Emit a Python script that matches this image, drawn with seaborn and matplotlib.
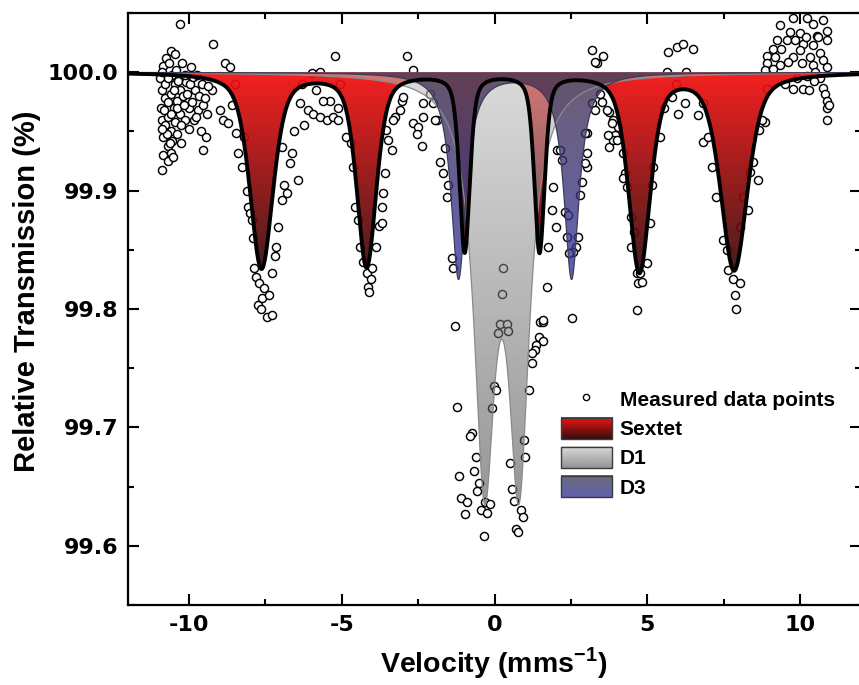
import numpy as np
import pandas as pd
import matplotlib
matplotlib.use("Agg")
import matplotlib.pyplot as plt
import seaborn as sns
from matplotlib.colors import LinearSegmentedColormap
from matplotlib.legend_handler import HandlerBase
from matplotlib.image import BboxImage
from matplotlib.transforms import Bbox, TransformedBbox
from matplotlib.patches import Rectangle, Patch
from matplotlib.lines import Line2D
from matplotlib.ticker import MultipleLocator, FormatStrFormatter

# ---------------- data ----------------
data_x = [
    -10.85, -10.75, -10.65, -10.55, -10.45, -10.35, -10.90, -10.80, -10.70, -10.60,
    -10.50, -10.40, -10.30, -10.20, -10.10, -10.00, -9.90, -9.80, -10.90, -10.80,
    -10.70, -10.60, -10.45, -10.30, -10.15, -10.00, -9.85, -9.70, -9.55, -9.40,
    -10.85, -10.70, -10.55, -10.40, -10.25, -9.60, -9.45, -10.85, -10.70, -10.60,
    -10.90, -10.31, -9.23, -9.25, -10.60, -10.45, -10.95, -10.88, -10.78, -10.68,
    -10.58, -10.48, -10.38, -10.28, -10.18, -10.08, -9.98, -9.88, -9.78, -9.68,
    -9.58, -9.48, -9.38, -10.92, -10.82, -10.72, -10.62, -10.52, -10.42, -10.22,
    -10.12, -9.95, -9.75, -10.88,
    # sextet line 1
    -8.84, -8.67, -8.50, -9.00, -8.90, -8.74, -8.45, -9.56, -8.41, -8.28,
    -8.12, -8.08, -8.02, -7.95, -7.86, -7.80, -7.70, -7.76, -7.60, -7.46,
    -7.30, -7.30, -7.14, -7.10, -6.97, -6.81, -6.71, -6.64, -6.45, -6.97,
    -6.38, -8.20, -8.60, -7.90, -7.55, -7.20, -6.90, -6.55, -7.65, -7.40,
    # between lines 1 and 2
    -6.12, -5.96, -5.73, -5.50, -5.30, -5.14, -5.40, -5.63, -5.99, -5.73,
    -5.24, -4.85, -5.14, -6.25, -5.85, -5.05, -6.30,
    # line 2
    -4.65, -4.58, -4.48, -4.42, -4.19, -4.16, -4.10, -4.00, -3.87, -3.80,
    -3.70, -3.66, -3.60, -4.70, -4.30, -4.05,
    # between lines 2 and centre
    -2.88, -2.68, -2.13, -3.04, -3.10, -3.27, -3.34, -3.54, -3.50, -3.37,
    -3.70, -2.68, -2.52, -2.55, -2.39, -2.36, -2.03, -1.87, -1.96, -1.64,
    -1.80, -1.70, -1.54, -1.57, -1.41, -1.37, -3.00, -2.36, -1.31, -1.24,
    # D1 region
    0.29, 0.23, 0.16, 0.39, 0.10, 0.43, -0.03, 0.03, 1.11, -0.10,
    -0.75, -0.82, 0.95, 1.01, -0.62, 0.52, -0.69, -1.18, -0.52, -0.59,
    0.56, -1.11, -0.92, 0.62, -0.33, -0.16, -0.43, -0.98, -0.26, 0.85,
    0.92, 0.69, 0.75, -0.36,
    1.70, 1.47, 1.60, 1.44, 1.57, 1.37, 1.31, 1.21, 1.24,
    # right of D1 up to line 5
    1.74, 1.90, 1.87, 2.00, 2.29, 2.36, 2.72, 2.68, 2.55, 2.45,
    2.39, 2.03, 2.19, 2.13, 2.52, 1.57, 2.78, 2.85, 3.01, 2.95,
    3.01, 3.04, 2.95, 3.18, 3.54, 3.34, 3.27, 3.44, 3.18, 3.27,
    3.50, 3.76, 3.86, 4.03, 3.93, 3.76, 3.86, 3.67, 3.70, 3.83,
    3.99,
    # line 5
    4.19, 4.26, 4.32, 4.48, 4.65, 4.48, 4.19, 4.75, 4.68, 4.84,
    4.65, 4.98, 5.07, 5.14, 5.17, 5.40, 4.55,
    # between 5 and 6
    5.66, 5.96, 6.15, 6.48, 5.63, 6.28, 5.79, 6.22, 6.65, 6.81,
    6.81, 5.95, 6.00, 5.55,
    # line 6
    7.10, 7.25, 7.46, 7.59, 7.79, 8.02, 7.86, 7.63, 7.90, 8.02,
    8.12, 8.28, 8.35, 8.45, 8.61, 8.67, 8.84, 8.74, 7.00,
    # right cluster
    8.90, 9.33, 9.76, 10.21, 10.41, 10.74, 10.87, 9.66, 9.98, 10.54,
    10.87, 9.23, 9.56, 9.82, 10.08, 10.41, 9.10, 9.39, 9.98, 10.64,
    8.90, 9.17, 9.76, 10.31, 10.74, 8.90, 9.33, 9.59, 10.05, 10.41,
    10.87, 8.84, 9.10, 10.21, 10.64, 10.08, 10.74, 10.47, 10.80, 10.87,
    10.87, 10.87, 9.76, 10.93, 10.50, 9.90, 10.30, 9.50, 10.60, 10.20,
]
data_y = [
    100.005, 100.012, 100.008, 99.998, 99.990, 99.993, 99.985, 99.978, 99.975, 99.982,
    99.970, 99.976, 99.985, 99.980, 99.992, 99.970, 99.975, 99.985, 99.960, 99.955,
    99.962, 99.950, 99.958, 99.965, 99.960, 99.952, 99.960, 99.968, 99.972, 99.965,
    99.945, 99.938, 99.942, 99.948, 99.940, 99.950, 99.945, 99.930, 99.925, 99.932,
    99.917, 100.041, 100.024, 99.985, 100.018, 100.015, 99.995, 100.000, 99.990, 99.995,
    99.965, 99.985, 99.970, 99.955, 99.972, 99.982, 99.990, 99.996, 99.962, 99.980,
    99.990, 99.978, 99.988, 99.970, 99.968, 99.948, 99.940, 99.928, 100.002, 100.008,
    99.998, 100.004, 99.998, 99.952,
    100.008, 100.004, 99.990, 99.968, 99.960, 99.957, 99.949, 99.934, 99.932, 99.920,
    99.900, 99.886, 99.881, 99.875, 99.835, 99.827, 99.822, 99.803, 99.809, 99.793,
    99.795, 99.830, 99.852, 99.869, 99.892, 99.898, 99.923, 99.932, 99.909, 99.937,
    99.974, 99.945, 99.972, 99.860, 99.818, 99.845, 99.905, 99.950, 99.800, 99.812,
    99.968, 99.965, 99.962, 99.960, 99.962, 99.970, 99.976, 99.976, 99.999, 100.000,
    100.014, 99.945, 99.960, 99.955, 99.985, 99.990, 99.990,
    99.920, 99.886, 99.875, 99.852, 99.830, 99.819, 99.814, 99.835, 99.852, 99.870,
    99.886, 99.898, 99.915, 99.940, 99.840, 99.825,
    100.014, 100.002, 99.982, 99.976, 99.968, 99.962, 99.960, 99.951, 99.943, 99.934,
    99.873, 99.957, 99.954, 99.948, 99.938, 99.974, 99.974, 99.960, 99.960, 99.936,
    99.924, 99.915, 99.905, 99.895, 99.843, 99.835, 99.979, 99.962, 99.786, 99.717,
    99.835, 99.813, 99.787, 99.787, 99.780, 99.781, 99.735, 99.732, 99.732, 99.716,
    99.695, 99.693, 99.689, 99.675, 99.675, 99.670, 99.663, 99.659, 99.653, 99.646,
    99.648, 99.640, 99.637, 99.638, 99.637, 99.635, 99.630, 99.627, 99.628, 99.630,
    99.624, 99.614, 99.612, 99.608,
    99.819, 99.789, 99.789, 99.776, 99.773, 99.770, 99.765, 99.763, 99.754,
    99.852, 99.903, 99.884, 99.869, 99.882, 99.861, 99.861, 99.852, 99.848, 99.847,
    99.879, 99.934, 99.926, 99.934, 99.792, 99.791, 99.896, 99.907, 99.920, 99.923,
    99.949, 99.932, 99.949, 100.019, 100.014, 100.008, 100.009, 99.982, 99.974, 99.968,
    99.975, 99.966, 99.960, 99.954, 99.947, 99.937, 99.943, 99.968, 99.947, 99.957,
    99.943,
    99.932, 99.915, 99.903, 99.878, 99.830, 99.852, 99.911, 99.830, 99.822, 99.823,
    99.799, 99.839, 99.873, 99.905, 99.920, 99.945, 99.865,
    100.017, 100.021, 100.024, 100.020, 100.000, 100.000, 99.979, 99.974, 99.964, 99.974,
    99.941, 99.990, 99.965, 99.970,
    99.920, 99.895, 99.858, 99.850, 99.825, 99.822, 99.812, 99.833, 99.800, 99.869,
    99.895, 99.884, 99.916, 99.924, 99.909, 99.951, 99.958, 99.960, 99.945,
    99.986, 100.040, 100.046, 100.046, 100.041, 100.044, 100.035, 100.034, 100.033, 100.031,
    100.027, 100.027, 100.027, 100.027, 100.024, 100.023, 100.020, 100.020, 100.019, 100.016,
    100.014, 100.013, 100.013, 100.013, 100.010, 100.008, 100.006, 100.009, 100.008, 100.006,
    100.004, 100.002, 100.003, 99.997, 99.995, 99.986, 99.987, 99.993, 99.982, 99.976,
    99.970, 99.960, 99.986, 99.972, 100.000, 99.995, 99.985, 99.990, 100.030, 100.030,
]

# fitted sub-spectra: line positions (mm/s), depths (%), half widths (mm/s)
sextet_pos = [-7.63, -4.19, -0.98, 1.47, 4.74, 7.84]
sextet_depth = [0.165, 0.163, 0.150, 0.150, 0.167, 0.166]
sextet_hw = [0.45, 0.38, 0.20, 0.20, 0.42, 0.52]
d1_pos = [-0.33, 0.80]
d1_depth = [0.327, 0.327]
d1_hw = [0.41, 0.41]
d3_pos = [-1.18, 2.52]
d3_depth = [0.174, 0.174]
d3_hw = [0.30, 0.30]

legend_labels = ["Measured data points", "Sextet", "D1", "D3"]
x_ticks = [-10, -5, 0, 5, 10]
y_ticks = [99.6, 99.7, 99.8, 99.9, 100.0]

# ---------------- helpers ----------------
BASE = 100.0


def profile(v, pos, depth, hw, eta):
    out = np.zeros_like(v)
    for p, d, w in zip(pos, depth, hw):
        lor = w ** 2 / ((v - p) ** 2 + w ** 2)
        gau = np.exp(-np.log(2) * ((v - p) / w) ** 2)
        out += d * (eta * lor + (1 - eta) * gau)
    return BASE - out


def gradient_fill(ax, v, curve, c_top, c_bot, alpha, zorder):
    poly = ax.fill_between(v, curve, BASE, facecolor="none", edgecolor="none", zorder=zorder)
    cmap = LinearSegmentedColormap.from_list("g", [c_bot, c_top])
    grad = np.linspace(0, 1, 256).reshape(-1, 1)
    im = ax.imshow(grad, cmap=cmap, origin="lower", aspect="auto",
                   extent=[v.min(), v.max(), curve.min(), BASE],
                   alpha=alpha, zorder=zorder, interpolation="bicubic")
    im.set_clip_path(poly.get_paths()[0], transform=ax.transData)
    return im


class GradientHandler(HandlerBase):
    def __init__(self, c_top, c_bot):
        super().__init__()
        self.cmap = LinearSegmentedColormap.from_list("h", [c_bot, c_top])

    def create_artists(self, legend, orig_handle, xdescent, ydescent,
                       width, height, fontsize, trans):
        bb = TransformedBbox(Bbox.from_bounds(-xdescent, -ydescent, width, height), trans)
        img = BboxImage(bb, cmap=self.cmap, interpolation="bicubic", origin="lower")
        img.set_data(np.linspace(0, 1, 64).reshape(-1, 1))
        rect = Rectangle((-xdescent, -ydescent), width, height, facecolor="none",
                         edgecolor="#3a3a3a", lw=1.0, transform=trans)
        return [img, rect]


# ---------------- figure ----------------
sns.set_theme(style="ticks")
plt.rcParams["font.family"] = ["Liberation Sans", "DejaVu Sans"]
plt.rcParams["font.weight"] = "bold"
plt.rcParams["text.color"] = "black"
plt.rcParams["axes.labelcolor"] = "black"
plt.rcParams["xtick.color"] = "black"
plt.rcParams["ytick.color"] = "black"
plt.rcParams["axes.unicode_minus"] = False
plt.rcParams["mathtext.fontset"] = "custom"
plt.rcParams["mathtext.rm"] = "Liberation Sans:bold"
plt.rcParams["mathtext.bf"] = "Liberation Sans:bold"

fig = plt.figure(figsize=(8.59, 6.85), dpi=100)
ax = fig.add_axes([0.149, 0.1168, 0.8536, 0.8642])

vel = np.linspace(-12, 12, 2401)
sextet = profile(vel, sextet_pos, sextet_depth, sextet_hw, 0.5)
d1 = profile(vel, d1_pos, d1_depth, d1_hw, 1.0)
d3 = profile(vel, d3_pos, d3_depth, d3_hw, 1.0)

pts = pd.DataFrame({"v": data_x, "t": data_y})
sns.scatterplot(data=pts, x="v", y="t", ax=ax, marker="o", s=34,
                facecolor="white", edgecolor="black", linewidth=1.05, zorder=2, legend=False)

gradient_fill(ax, vel, sextet, (0.96, 0.06, 0.06), (0.22, 0.04, 0.04), 0.93, 3)
gradient_fill(ax, vel, d1, (0.74, 0.74, 0.74), (0.26, 0.26, 0.26), 0.55, 4)
gradient_fill(ax, vel, d3, (0.26, 0.19, 0.30), (0.20, 0.20, 0.62), 0.78, 5)

lines = pd.DataFrame({"v": vel, "sextet": sextet, "d1": d1, "d3": d3})
sns.lineplot(data=lines, x="v", y="d1", ax=ax, color="#8a8a8a", lw=0.9, zorder=6, sort=False, estimator=None)
sns.lineplot(data=lines, x="v", y="d3", ax=ax, color="#3c3c5a", lw=0.9, zorder=6, sort=False, estimator=None)
sns.lineplot(data=lines, x="v", y="sextet", ax=ax, color="black", lw=2.8, zorder=7, sort=False, estimator=None)

ax.set_xlim(-12, 12)
ax.set_ylim(99.55, 100.05)
ax.set_xticks(x_ticks)
ax.set_yticks(y_ticks)
ax.xaxis.set_minor_locator(MultipleLocator(2.5))
ax.yaxis.set_minor_locator(MultipleLocator(0.05))
ax.yaxis.set_major_formatter(FormatStrFormatter("%.1f"))
ax.tick_params(which="both", direction="in", top=True, right=True, width=1.5, colors="black")
ax.tick_params(which="major", length=8, labelsize=16, pad=7, labelfontfamily="DejaVu Sans")
ax.tick_params(which="minor", length=4)
for lab in ax.get_xticklabels() + ax.get_yticklabels():
    lab.set_fontweight("bold")
for s in ax.spines.values():
    s.set_linewidth(1.6)
    s.set_color("black")

ax.set_xlabel("Velocity (mms$^{\\mathrm{-1}}$)", fontsize=20.5, fontweight="bold")
ax.set_ylabel("Relative Transmission (%)", fontsize=21, fontweight="bold")
ax.xaxis.set_label_coords(0.498, -0.068)
ax.yaxis.set_label_coords(-0.118, 0.53)

handles = [
    Line2D([], [], marker="o", ls="none", mfc="white", mec="black", ms=4.5, mew=1.0),
    Patch(label="Sextet"), Patch(label="D1"), Patch(label="D3"),
]
leg = ax.legend(handles, legend_labels, loc="upper left", bbox_to_anchor=(0.5905, 0.366),
                frameon=False, prop={"size": 15, "weight": "bold"},
                handlelength=2.45, handleheight=1.2, handletextpad=0.37,
                labelspacing=0.36, borderpad=0.0, borderaxespad=0.0,
                handler_map={handles[1]: GradientHandler((0.94, 0.08, 0.08), (0.22, 0.05, 0.05)),
                             handles[2]: GradientHandler((0.86, 0.86, 0.86), (0.58, 0.58, 0.58)),
                             handles[3]: GradientHandler((0.42, 0.42, 0.48), (0.38, 0.38, 0.68))})
leg.set_zorder(10)

fig.savefig("out.png", dpi=100)
